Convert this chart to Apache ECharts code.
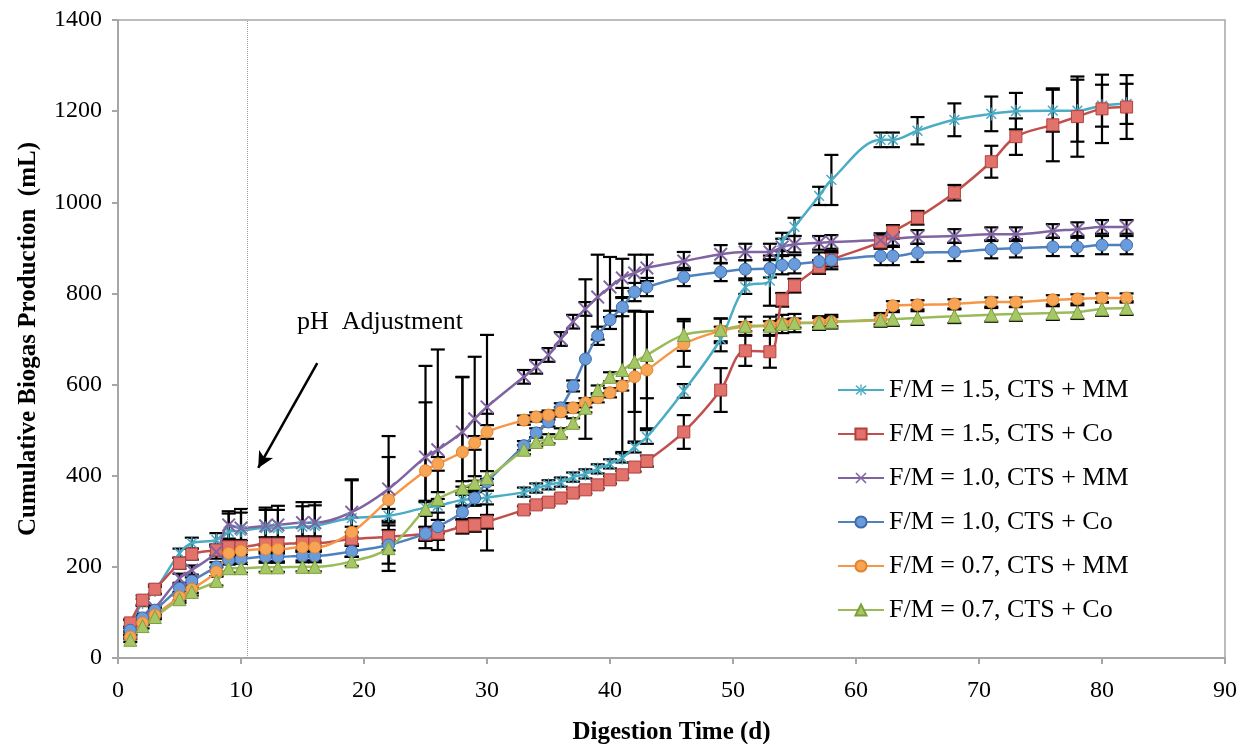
<!DOCTYPE html>
<html>
<head>
<meta charset="utf-8">
<script src="https://cdn.jsdelivr.net/npm/echarts@6/dist/echarts.min.js"></script>
<style>html,body{margin:0;padding:0;background:#fff}#c{width:1242px;height:744px}</style>
</head>
<body>
<div id="c"></div>
<script>
const days = [1,2,3,5,6,8,9,10,12,13,15,16,19,22,25,26,28,29,30,33,34,35,36,37,38,39,40,41,42,43,46,49,51,53,54,55,57,58,62,63,65,68,71,73,76,78,80,82];
const seriesNames = ['F/M = 1.5, CTS + MM','F/M = 1.5, CTS + Co','F/M = 1.0, CTS + MM','F/M = 1.0, CTS + Co','F/M = 0.7, CTS + MM','F/M = 0.7, CTS + Co'];
const fm15MM = [75,122,148,230,252,259,277,279,285,285,288,290,307,312,330,334,347,349,352,364,373,380,386,397,404,415,426,439,463,485,586,700,814,828,913,946,1014,1049,1137,1137,1157,1181,1194,1200,1201,1201,1212,1216];
const fm15Co = [77,127,151,208,228,237,244,244,250,250,252,252,261,266,272,274,288,292,299,325,336,342,351,362,369,380,391,402,419,432,496,588,674,672,786,817,858,874,913,935,966,1021,1089,1144,1170,1188,1205,1209];
const fm10MM = [55,92,110,175,193,233,292,285,290,292,297,297,320,371,441,457,496,525,551,617,639,665,700,738,766,792,814,834,845,856,871,886,891,891,902,908,911,913,917,920,924,926,930,930,937,941,946,946];
const fm10Co = [61,88,105,153,169,200,215,217,222,222,224,224,234,248,273,288,320,351,386,466,494,518,549,597,656,707,742,770,803,814,836,847,853,855,862,864,870,873,882,882,889,891,897,899,902,902,906,906];
const fm07MM = [46,77,94,134,151,189,230,235,239,239,243,243,276,347,411,426,452,472,496,522,529,533,540,549,560,571,582,597,617,632,689,718,727,729,733,735,736,738,742,773,775,777,781,781,786,788,790,790];
const fm07Co = [40,70,90,129,145,169,197,197,199,199,200,200,212,241,327,349,373,384,395,457,474,481,494,516,549,588,617,632,650,665,709,720,729,729,733,735,735,738,742,744,746,750,753,755,757,759,766,768];
const err15MM = [8,8,8,10,12,15,40,40,40,40,45,45,85,15,15,15,15,15,15,10,10,10,10,10,10,10,10,10,12,15,15,27,15,55,20,20,20,55,16,16,30,36,38,40,46,68,46,44];
const err15Co = [8,10,10,12,12,12,15,15,15,15,15,15,15,15,15,15,15,15,15,8,8,8,8,8,8,8,8,8,10,12,37,48,33,35,15,15,15,15,15,15,15,17,35,40,80,88,75,70];
const err10MM = [5,5,5,10,10,15,30,42,40,42,45,45,70,70,200,220,120,136,158,15,15,15,15,15,15,93,66,42,40,29,20,20,18,18,18,18,15,15,15,15,15,15,15,15,15,15,15,15];
const err10Co = [5,5,5,8,8,10,10,10,10,10,10,10,12,12,15,15,15,15,150,10,10,10,10,12,175,20,20,20,20,20,20,20,20,20,20,20,20,20,20,20,20,20,20,20,20,20,20,20];
const err07MM = [5,5,5,8,8,10,10,10,10,10,10,10,12,140,150,15,165,15,15,10,10,10,10,10,10,10,10,10,145,128,50,27,10,10,10,10,10,10,10,10,10,10,10,10,10,10,10,10];
const err07Co = [5,5,5,8,8,10,10,10,10,10,10,10,10,50,15,15,15,15,15,10,10,10,10,10,10,10,10,180,110,95,35,25,20,20,20,20,15,15,15,15,15,15,15,15,15,15,15,15];
const xTicks = [0,10,20,30,40,50,60,70,80,90];
const yTicks = [0,200,400,600,800,1000,1200,1400];
const phDay = 10.5;
const annotationText = 'pH  Adjustment';
const arrowFrom = [16.2, 647];
const arrowTo = [11.4, 417];
const textAt = [21.3, 737];

const FONT = 'Liberation Serif';
const values = [fm15MM, fm15Co, fm10MM, fm10Co, fm07MM, fm07Co];
const errs = [err15MM, err15Co, err10MM, err10Co, err07MM, err07Co];
const lineColors = ['#4BACC6','#C0504D','#8064A2','#4F81BD','#F79646','#9BBB59'];
const fillColors = ['#4BACC6','#E2726C','#8064A2','#6A9BDA','#F8A455','#A5C765'];
const borderColors = ['#4BACC6','#B0413E','#8064A2','#3D6DAE','#E0852F','#7E9E3E'];
const xPath = 'path://M1,0 L5,4 L9,0 L10,1 L6,5 L10,9 L9,10 L5,6 L1,10 L0,9 L4,5 L0,1 Z';
const starPath = 'path://M1,0 L5,4 L9,0 L10,1 L6,5 L10,9 L9,10 L5,6 L1,10 L0,9 L4,5 L0,1 Z M4.4,-1 L4.4,11 L5.6,11 L5.6,-1 Z';
const symbols = [starPath,'rect',xPath,'circle','circle','triangle'];
const symSizes = [13,12,14,12,12,13];

const series = [];
values.forEach((vals, k) => {
  series.push({
    name: 'err' + k,
    type: 'custom',
    z: 1,
    silent: true,
    encode: {x: 0, y: [1, 2]},
    data: days.map((d, i) => [d, vals[i] - errs[k][i], vals[i] + errs[k][i]]),
    renderItem: function (params, api) {
      const x = api.value(0);
      const lo = api.coord([x, api.value(1)]);
      const hi = api.coord([x, api.value(2)]);
      const w = 7;
      const st = {stroke: '#000', lineWidth: 2.2};
      return {type: 'group', children: [
        {type: 'line', shape: {x1: lo[0], y1: lo[1], x2: hi[0], y2: hi[1]}, style: st},
        {type: 'line', shape: {x1: hi[0] - w, y1: hi[1], x2: hi[0] + w, y2: hi[1]}, style: st},
        {type: 'line', shape: {x1: lo[0] - w, y1: lo[1], x2: lo[0] + w, y2: lo[1]}, style: st}
      ]};
    }
  });
});
values.forEach((vals, k) => {
  const s = {
    name: seriesNames[k],
    type: 'line',
    z: 3,
    smooth: 0.35,
    data: days.map((d, i) => [d, vals[i]]),
    symbol: symbols[k],
    symbolSize: symSizes[k],
    symbolKeepAspect: true,
    lineStyle: {color: lineColors[k], width: 2.5},
    itemStyle: {color: fillColors[k], borderColor: borderColors[k], borderWidth: (k === 0 || k === 2) ? 0 : 1},
    emphasis: {disabled: true}
  };
  if (k === 0) {
    s.markLine = {
      silent: true,
      symbol: ['none', 'none'],
      label: {show: false},
      data: [
        {xAxis: phDay, lineStyle: {type: 'dotted', color: '#9a9a9a', width: 1}},
        [{coord: arrowFrom, symbol: 'none'}, {coord: arrowTo, symbol: 'arrow', symbolSize: [12, 16], lineStyle: {color: '#000', width: 2.5, type: 'solid'}}]
      ],
      lineStyle: {color: '#000', width: 2.5, type: 'solid'}
    };
    s.markPoint = {
      silent: true,
      symbol: 'circle',
      symbolSize: 0,
      data: [{coord: textAt, label: {show: true, position: 'inside', formatter: annotationText, color: '#000', fontFamily: FONT, fontSize: 26}}]
    };
  }
  series.push(s);
});

const chart = echarts.init(document.getElementById('c'), null, {renderer: 'canvas'});
chart.setOption({
  animation: false,
  backgroundColor: '#fff',
  grid: {left: 118, right: 17, top: 20, bottom: 86, show: true, borderColor: '#a6a6a6', borderWidth: 1.5, containLabel: false, outerBoundsMode: 'none'},
  legend: {
    data: seriesNames,
    orient: 'vertical',
    left: 837,
    top: 377,
    padding: 0,
    itemWidth: 46,
    itemHeight: 14,
    itemGap: 18,
    textStyle: {fontFamily: FONT, fontSize: 26, color: '#000', lineHeight: 26, padding: [0, 0, 0, 0]},
    selectedMode: false
  },
  xAxis: {
    type: 'value', min: 0, max: 90, interval: 10,
    name: 'Digestion Time (d)', nameLocation: 'middle', nameGap: 62,
    nameTextStyle: {fontFamily: FONT, fontSize: 25, fontWeight: 'bold', color: '#000'},
    axisLine: {show: true, lineStyle: {color: '#a6a6a6', width: 2}},
    axisTick: {show: true, inside: false, length: 6, lineStyle: {color: '#a6a6a6', width: 2}},
    axisLabel: {fontFamily: FONT, fontSize: 24, color: '#000', margin: 21, formatter: v => xTicks.includes(v) ? String(v) : ''},
    splitLine: {show: false}
  },
  yAxis: {
    type: 'value', min: 0, max: 1400, interval: 200,
    name: 'Cumulative Biogas Production  (mL)', nameLocation: 'middle', nameGap: 77,
    nameTextStyle: {fontFamily: FONT, fontSize: 25, fontWeight: 'bold', color: '#000'},
    axisLine: {show: true, lineStyle: {color: '#a6a6a6', width: 2}},
    axisTick: {show: true, inside: false, length: 6, lineStyle: {color: '#a6a6a6', width: 2}},
    axisLabel: {fontFamily: FONT, fontSize: 24, color: '#000', margin: 16, formatter: v => yTicks.includes(v) ? String(v) : ''},
    splitLine: {show: false}
  },
  series: series
});
</script>
</body>
</html>
